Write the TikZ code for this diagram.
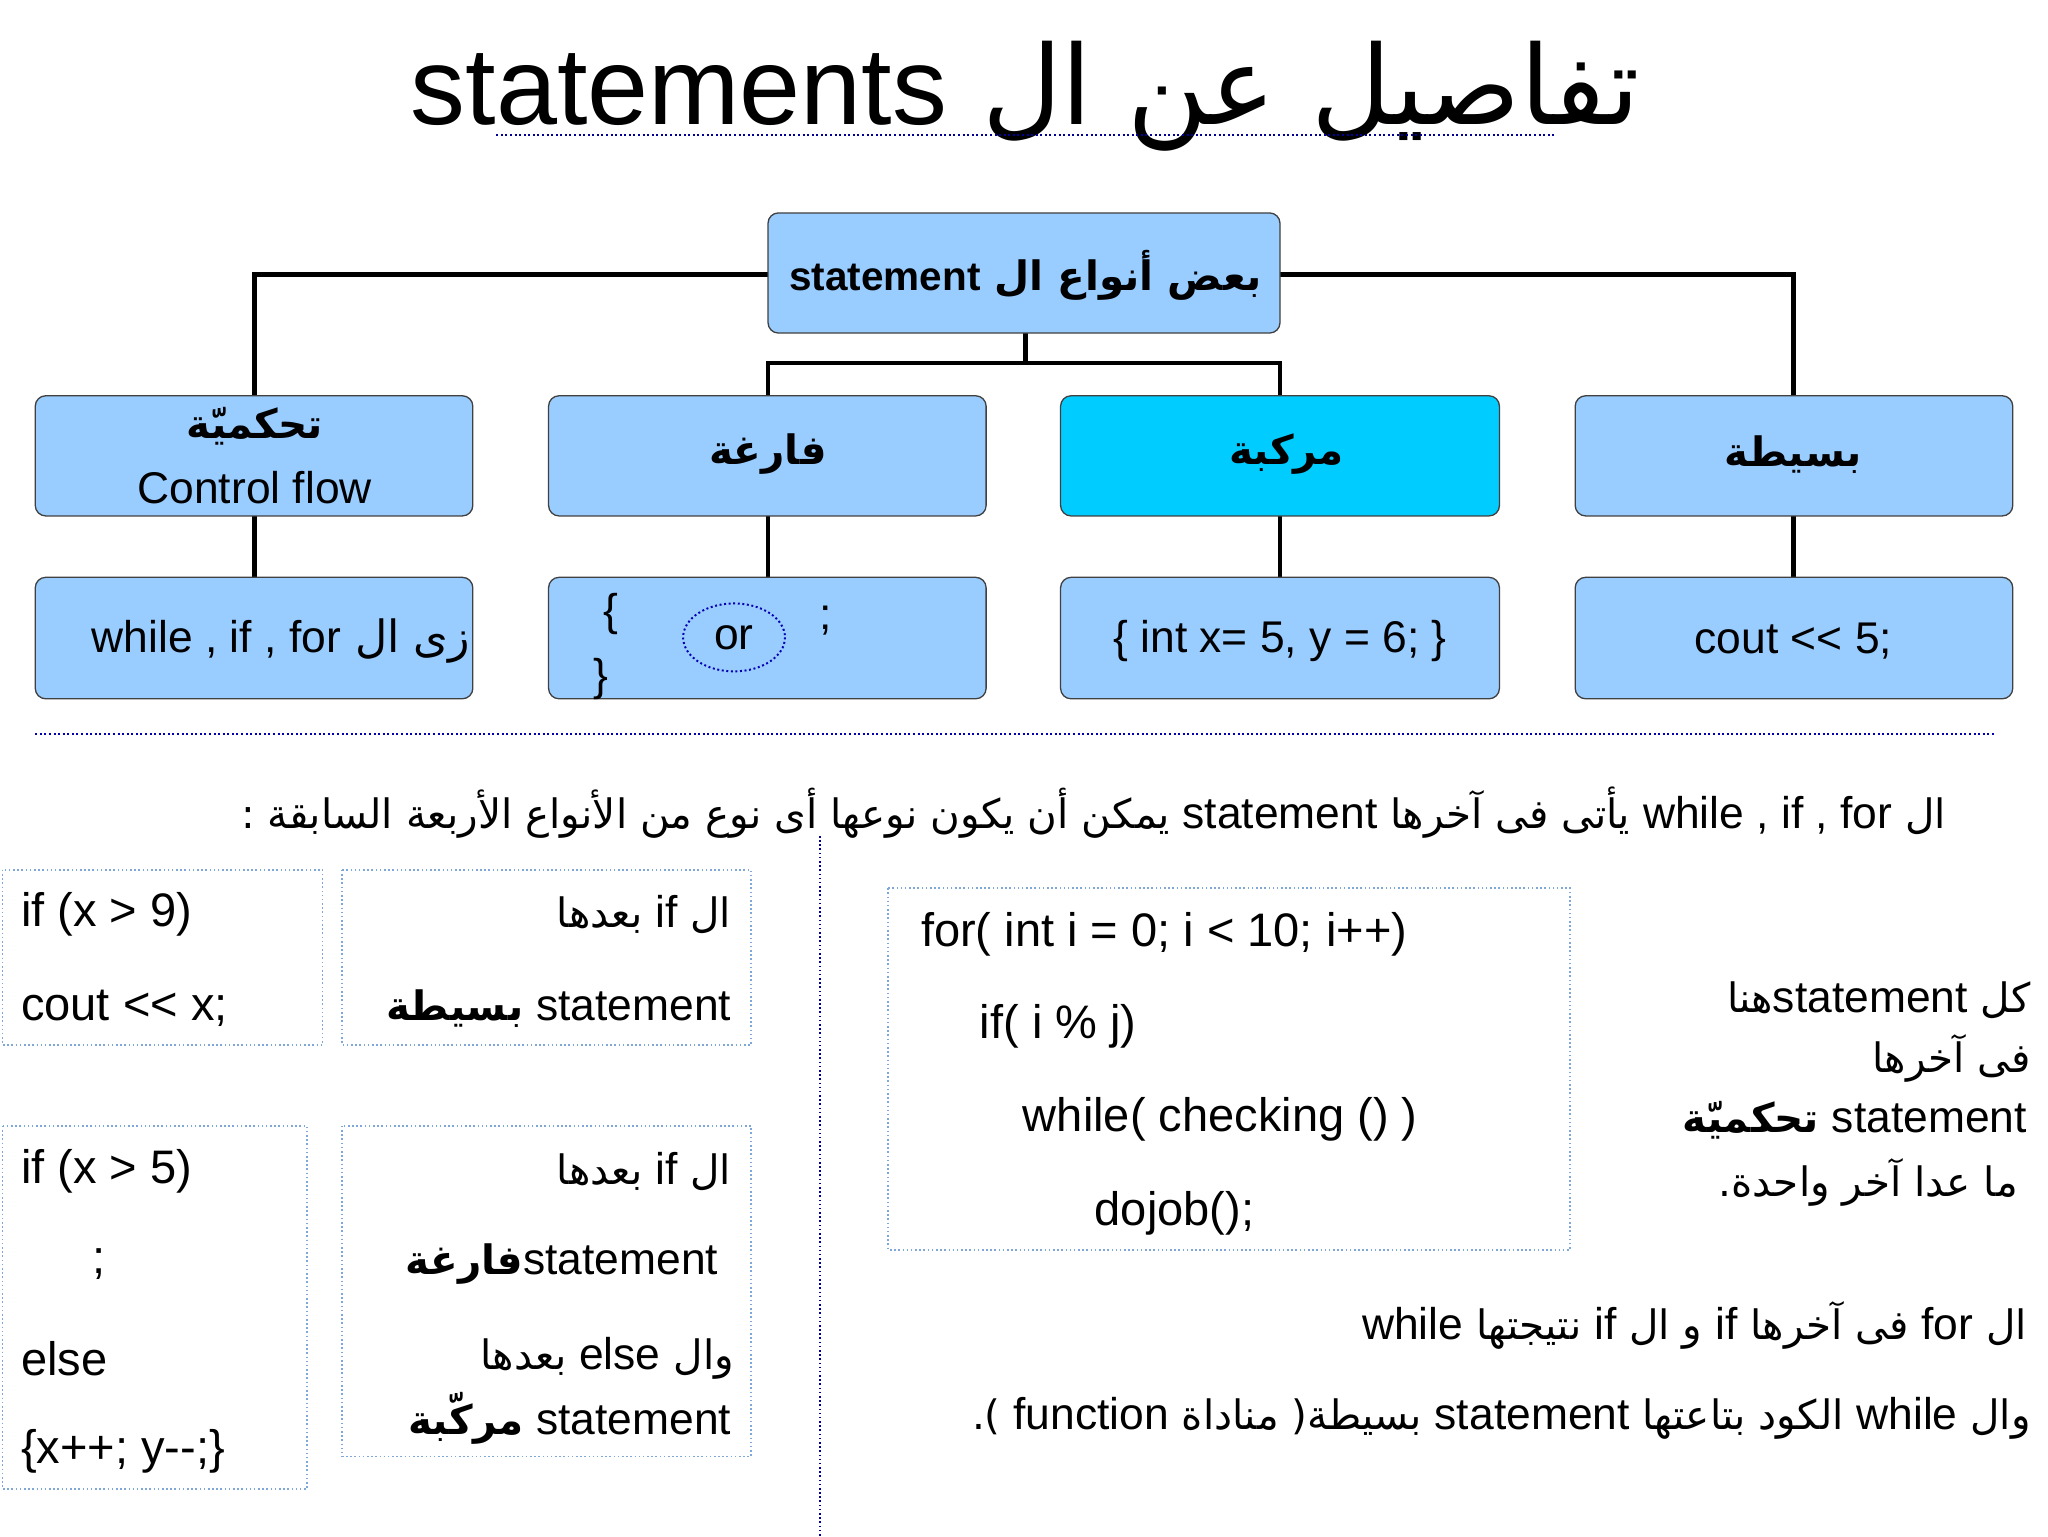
\documentclass[tikz,border=0pt]{standalone}
\usepackage{fontspec}
\setmainfont{Liberation Sans}[Ligatures=ResetAll]
\newfontfamily\latf{Liberation Sans}[Ligatures=ResetAll]
\newfontfamily\ar[Script=Arabic]{DejaVu Sans}
\TeXXeTstate=1
\definecolor{boxblue}{HTML}{99CCFF}
\definecolor{cyanbox}{HTML}{00CCFF}
\definecolor{dotblue}{HTML}{7FA8D8}
\tikzset{
 bx/.style={draw=black!75,line width=1pt,fill=boxblue,rounded corners=8pt},
 ln/.style={line width=3.5pt},
 db/.style={draw=dotblue,dotted,line width=1.2pt},
 t/.style={font=\fontsize{34}{40}\selectfont,inner sep=0pt},
 tc/.style={font=\fontsize{36}{40}\selectfont,inner sep=0pt},
 ta/.style={font=\fontsize{31}{40}\selectfont,inner sep=0pt},
 tb/.style={font=\bfseries\fontsize{31}{36}\selectfont,inner sep=0pt},
}
\newcommand{\R}[1]{{\ar\beginR #1\endR}}
\newcommand{\LL}[1]{\beginL{\latf\fontsize{34}{40}\selectfont #1}\endL}
\newcommand{\LT}[1]{\beginL{\latf #1}\endL}
\begin{document}
\begin{tikzpicture}[x=1pt,y=-1pt]
\useasboundingbox (0,0) rectangle (1568,1176);
% title
\node[font=\fontsize{84}{90}\selectfont,inner sep=0pt] (title) at (785,74) {\R{تفاصيل عن ال \LT{statements}}};
\draw[dotted,line width=1.5pt,draw=blue!60!black] (380,103) -- (1190,103);
% top
\draw[ln] (195,303) |- (588,210);
\draw[ln] (1373,303) |- (980,210);
\draw[ln] (785,255) -- (785,278);
\draw[ln] (588,303) |- (980,278) -- (980,303);
\foreach \x in {195,588,980,1373} \draw[ln] (\x,395) -- (\x,442);
\draw[bx] (588,163) rectangle (980,255);
\node[tb] (top) at (785,211) {\R{بعض أنواع ال \LT{statement}}};
% row2
\draw[bx] (27,303) rectangle (362,395);
\draw[bx] (420,303) rectangle (755,395);
\draw[bx,fill=cyanbox] (812,303) rectangle (1148,395);
\draw[bx] (1206,303) rectangle (1541,395);
\node[tb] (a1) at (195,326) {\R{تحكميّة}};
\node[t] (a2) at (195,373) {Control flow};
\node[tb] (b) at (588,348) {\R{فارغة}};
\node[tb] (c) at (985,348) {\R{مركبة}};
\node[tb] (d) at (1373,348) {\R{بسيطة}};
% row3
\draw[bx] (27,442) rectangle (362,535);
\draw[bx] (420,442) rectangle (755,535);
\draw[bx] (812,442) rectangle (1148,535);
\draw[bx] (1206,442) rectangle (1541,535);
\begin{scope}
\clip (27,442) rectangle (362,535);
\node[t,anchor=west] (e) at (70,491) {\R{زى ال \LL{while , if , for}}};
\end{scope}
\node[t] (f1) at (468,470) {\{};
\node[t] (f2) at (460,520) {\}};
\node[t] (f3) at (562,488) {or};
\draw[dotted,line width=1.5pt,draw=blue!70!black] (f3) ellipse (39 and 26);
\node[t] (f4) at (632,475) {;};
\node[t] (g) at (980,491) {\{ int x= 5, y = 6; \}};
\node[t] (h) at (1373,491) {cout {<}{<} 5;};
% separator
\draw[dotted,line width=1.5pt,draw=blue!70!black] (27,562) -- (1528,562);
\node[ta,anchor=east] (s) at (1490,622) {\R{ال \LL{while , if , for} يأتى فى آخرها \LL{statement} يمكن أن يكون نوعها أى نوع من الأنواع الأربعة السابقة :}};
\draw[db,draw=blue!60!black] (628,640) -- (628,1176);
% left boxes
\draw[db] (2,666) rectangle (247,800);
\draw[db] (262,666) rectangle (575,800);
\draw[db] (2,862) rectangle (235,1140);
\draw[db] (262,862) rectangle (575,1115);
\node[tc,anchor=west] (p1) at (16,700) {if (x > 9)};
\node[tc,anchor=west] (p2) at (16,772) {cout {<}{<} x;};
\node[ta,anchor=east] (q1) at (560,700) {\R{ال \LL{if} بعدها}};
\node[ta,anchor=east] (q2) at (560,772) {\R{\LL{statement} \textbf{بسيطة}}};
\node[tc,anchor=west] (r1) at (16,897) {if (x > 5)};
\node[tc] (r2) at (76,968) {;};
\node[tc,anchor=west] (r3) at (16,1040) {else};
\node[tc,anchor=west] (r4) at (16,1111) {\{x++; y-{}-;\}};
\node[ta,anchor=east] (u1) at (560,897) {\R{ال \LL{if} بعدها}};
\node[ta,anchor=east] (u2) at (550,968) {\R{\LL{statement}\textbf{فارغة}}};
\node[ta,anchor=east] (u3) at (562,1040) {\R{وال \LL{else} بعدها}};
\node[ta,anchor=east] (u4) at (560,1086) {\R{\LL{statement} \textbf{مركّبة}}};
% right box
\draw[db] (680,680) rectangle (1202,957);
\node[tc,anchor=west] (v1) at (705,715) {for( int i = 0; i < 10; i++)};
\node[tc,anchor=west] (v2) at (750,786) {if( i \% j)};
\node[tc,anchor=west] (v3) at (783,857) {while( checking () )};
\node[tc,anchor=west] (v4) at (838,929) {dojob();};
\node[ta,anchor=east] (w1) at (1555,766) {\R{كل \LL{statement}هنا}};
\node[ta,anchor=east] (w2) at (1555,810) {\R{فى آخرها}};
\node[ta,anchor=east] (w3) at (1552,858) {\R{\LL{statement} \textbf{تحكميّة}}};
\node[ta,anchor=east] (w4) at (1545,905) {\R{ما عدا آخر واحدة.}};
\node[ta,anchor=east] (x1) at (1552,1015) {\R{ال \LL{for} فى آخرها \LL{if} و ال \LL{if} نتيجتها \LL{while}}};
\node[ta,anchor=east] (x2) at (1555,1086) {\R{وال \LL{while} الكود بتاعتها \LL{statement} بسيطة( مناداة \LL{function} ).}};
\end{tikzpicture}
\end{document}
